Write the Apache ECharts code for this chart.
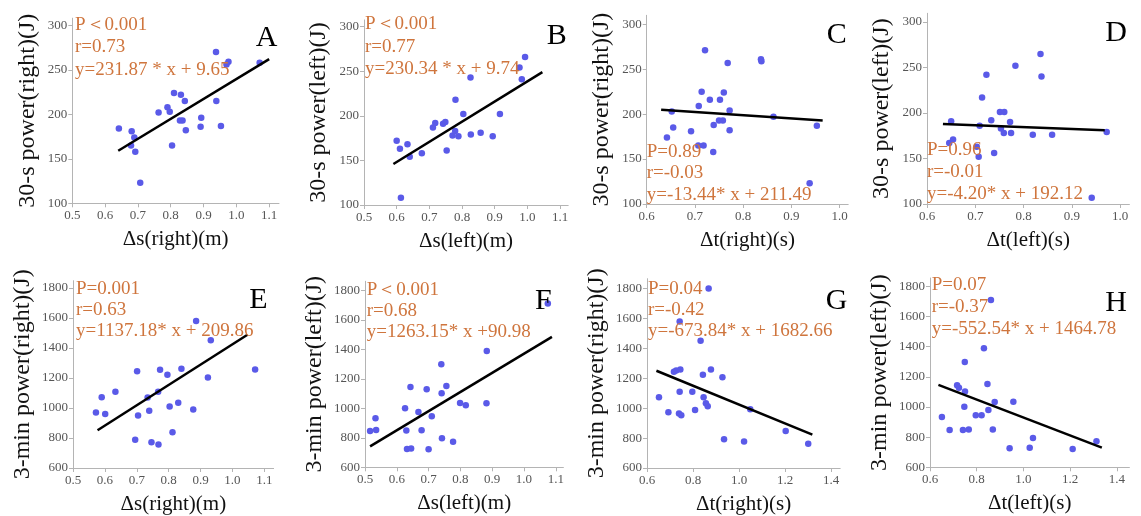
<!DOCTYPE html>
<html><head><meta charset="utf-8">
<script src="https://cdn.jsdelivr.net/npm/echarts@6/dist/echarts.min.js"></script>
<style>html,body{margin:0;padding:0;background:#fff}#c{width:1141px;height:516px}</style>
</head><body><div id="c"></div>
<script>
// ---------- DATA ----------
const panelLetters = ['A','B','C','D','E','F','G','H'];
const xTitles = ['Δs(right)(m)','Δs(left)(m)','Δt(right)(s)','Δt(left)(s)','Δs(right)(m)','Δs(left)(m)','Δt(right)(s)','Δt(left)(s)'];
const yTitles = ['30-s power(right)(J)','30-s power(left)(J)','30-s power(right)(J)','30-s power(left)(J)',
                 '3-min power(right)(J)','3-min power(left)(J)','3-min power(right)(J)','3-min power(left)(J)'];
const statsA = ['P＜0.001','r=0.73','y=231.87 * x + 9.65'];
const statsB = ['P＜0.001','r=0.77','y=230.34 * x + 9.74'];
const statsC = ['P=0.89','r=-0.03','y=-13.44* x + 211.49'];
const statsD = ['P=0.96','r=-0.01','y=-4.20* x + 192.12'];
const statsE = ['P=0.001','r=0.63','y=1137.18* x + 209.86'];
const statsF = ['P＜0.001','r=0.68','y=1263.15* x +90.98'];
const statsG = ['P=0.04','r=-0.42','y=-673.84* x + 1682.66'];
const statsH = ['P=0.07','r=-0.37','y=-552.54* x + 1464.78'];

const pointsA = [[0.642,184],[0.681,181],[0.689,174],[0.679,165],[0.692,158],[0.707,123],[0.763,202],[0.790,208],
  [0.797,203],[0.810,224],[0.831,222],[0.843,215],[0.804,165],[0.828,193],[0.836,193],[0.846,182],[0.893,196],
  [0.891,186],[0.938,270],[0.939,215],[0.953,187],[0.976,259],[0.970,256],[1.071,258]];
const pointsB = [[0.600,172],[0.610,163],[0.633,168],[0.640,154],[0.613,108],[0.677,158],[0.711,187],[0.718,192],
  [0.742,191],[0.749,193],[0.753,161],[0.771,178],[0.779,183],[0.780,218],[0.789,177],[0.804,202],[0.826,243],
  [0.827,179],[0.857,181],[0.894,177],[0.916,202],[0.976,254],[0.983,241],[0.993,266]];
const pointsC = [[0.642,174],[0.652,203],[0.655,185],[0.692,181],[0.707,165],[0.718,165],[0.721,271],[0.708,209],
  [0.714,225],[0.731,216],[0.738,158],[0.739,188],[0.750,193],[0.758,193],[0.752,216],[0.760,224],[0.768,257],
  [0.772,204],[0.772,182],[0.837,261],[0.838,259],[0.863,197],[0.938,123],[0.953,187]];
const pointsD = [[0.646,167],[0.650,191],[0.654,171],[0.703,163],[0.707,152],[0.709,186],[0.714,217],[0.723,242],
  [0.733,192],[0.739,156],[0.751,201],[0.760,201],[0.753,183],[0.759,178],[0.772,190],[0.774,178],[0.783,252],
  [0.819,176],[0.835,265],[0.837,240],[0.859,176],[0.941,107],[0.972,179]];
const pointsE = [[0.572,969],[0.590,1071],[0.601,960],[0.633,1108],[0.695,788],[0.701,1245],[0.704,949],[0.734,1069],
  [0.739,982],[0.746,772],[0.767,1108],[0.768,757],[0.773,1254],[0.796,1221],[0.803,1009],[0.812,839],[0.830,1035],
  [0.840,1261],[0.877,989],[0.886,1579],[0.923,1203],[0.932,1451],[1.071,1256]];
const pointsF = [[0.516,846],[0.533,932],[0.535,853],[0.626,1000],[0.630,849],[0.632,724],[0.645,727],[0.643,1145],
  [0.668,975],[0.678,851],[0.694,1129],[0.700,722],[0.710,946],[0.740,1298],[0.741,1102],[0.742,797],[0.756,1151],
  [0.777,774],[0.799,1036],[0.817,1020],[0.883,1389],[0.882,1034],[1.075,1710]];
const pointsG = [[0.652,1073],[0.693,973],[0.717,1244],[0.727,1253],[0.745,1260],[0.739,964],[0.749,953],[0.742,1111],
  [0.742,1580],[0.797,1111],[0.809,989],[0.833,1451],[0.843,1224],[0.846,1073],[0.856,1033],[0.864,1013],[0.868,1802],
  [0.878,1260],[0.928,1207],[0.935,793],[1.022,778],[1.049,993],[1.203,847],[1.301,762]];
const pointsH = [[0.651,934],[0.684,848],[0.716,1144],[0.724,1128],[0.741,848],[0.747,1002],[0.750,1102],[0.749,1298],
  [0.766,850],[0.796,945],[0.821,945],[0.831,1389],[0.846,1153],[0.850,980],[0.861,1709],[0.869,850],[0.877,1033],
  [0.941,726],[0.957,1035],[1.027,730],[1.041,794],[1.211,722],[1.313,772]];

const fitA = [[0.64,159],[1.10,262]];
const fitB = [[0.59,146],[1.046,249]];
const fitC = [[0.630,205],[0.965,193]];
const fitD = [[0.633,188],[0.968,181]];
const fitE = [[0.577,852],[1.047,1488]];
const fitF = [[0.516,742],[1.088,1484]];
const fitG = [[0.641,1251],[1.319,824]];
const fitH = [[0.636,1146],[1.336,730]];

const xTicksS = [0.5,0.6,0.7,0.8,0.9,1.0,1.1];
const xTicksT30 = [0.6,0.7,0.8,0.9,1.0];
const xTicksT3 = [0.6,0.8,1.0,1.2,1.4];
const yTicks30 = [100,150,200,250,300];
const yTicks3 = [600,800,1000,1200,1400,1600,1800];

// ---------- LAYOUT ----------
const pointsAll = [pointsA,pointsB,pointsC,pointsD,pointsE,pointsF,pointsG,pointsH];
const fitsAll = [fitA,fitB,fitC,fitD,fitE,fitF,fitG,fitH];
const statsAll = [statsA,statsB,statsC,statsD,statsE,statsF,statsG,statsH];
const xTicksAll = [xTicksS,xTicksS,xTicksT30,xTicksT30,xTicksS,xTicksS,xTicksT3,xTicksT3];
const yTicksAll = [yTicks30,yTicks30,yTicks30,yTicks30,yTicks3,yTicks3,yTicks3,yTicks3];
// grid: left, top, width, height ; axis ranges
const grids = [
  [72.3,18.2,206.7,185.1],[364,19.9,204.2,185.1],[646.7,15.3,201.5,188.7],[927,13.3,202.4,190.7],
  [73,280.7,200.6,188.3],[365,281.3,198.4,186],[647,278.7,193.2,190],[930,278,199.4,189.3]];
const xRanges = [[0.5,1.13],[0.5,1.125],[0.6,1.018],[0.6,1.019],[0.5,1.129],[0.5,1.124],[0.6,1.44],[0.6,1.454]];
const yRanges = [[100,308],[100,307.5],[100,310],[100,309.6],[600,1848],[600,1861],[600,1867],[600,1855]];
const statPos = [[75,25,22.5],[365,24.3,22.5],[646.7,151.7,21.7],[927,150,22],[76,288.7,21],[366.7,290.3,21],[648,288.7,21.3],[931.7,285.3,21.7]];
const letterPos = [[266.7,38.3],[556.7,36],[836.7,35],[1116,33.3],[258.3,299.7],[543.3,301.3],[836.7,301.3],[1116,303]];

const SERIF = '"Liberation Serif","Times New Roman",serif';
const ORANGE = '#cf753d';
const BLUE = '#5a5ae8';
const AXIS = '#b4b4b4';

const option = {backgroundColor:'#fff', animation:false, grid:[], xAxis:[], yAxis:[], series:[], graphic:[]};
for (let i=0;i<8;i++){
  const g = grids[i];
  option.grid.push({left:g[0], top:g[1], width:g[2], height:g[3], containLabel:false});
  option.xAxis.push({
    type:'value', gridIndex:i, min:xRanges[i][0], max:xRanges[i][1],
    name:xTitles[i], nameLocation:'middle', nameGap:26,
    nameTextStyle:{fontFamily:SERIF, fontSize:21, color:'#111'},
    axisLine:{show:true, lineStyle:{color:AXIS, width:1}},
    axisTick:{show:true, length:4, lineStyle:{color:AXIS}, customValues:xTicksAll[i]},
    axisLabel:{customValues:xTicksAll[i], formatter:v => Number(v).toFixed(1), margin:6, fontFamily:SERIF, fontSize:13, color:'#555'},
    splitLine:{show:false}
  });
  option.yAxis.push({
    type:'value', gridIndex:i, min:yRanges[i][0], max:yRanges[i][1],
    name:yTitles[i], nameLocation:'middle', nameGap: i<4?33:38,
    nameTextStyle:{fontFamily:SERIF, fontSize:24, color:'#111'},
    axisLine:{show:true, lineStyle:{color:AXIS, width:1}},
    axisTick:{show:true, length:4, lineStyle:{color:AXIS}, customValues:yTicksAll[i]},
    axisLabel:{customValues:yTicksAll[i], formatter:v => String(Math.round(v)), margin:5, fontFamily:SERIF, fontSize:13, color:'#555'},
    splitLine:{show:false}
  });
  option.series.push({
    type:'scatter', xAxisIndex:i, yAxisIndex:i, data:pointsAll[i],
    symbolSize:6.5, itemStyle:{color:BLUE, opacity:1}, z:2
  });
  option.series.push({
    type:'line', xAxisIndex:i, yAxisIndex:i, data:fitsAll[i], symbol:'none',
    lineStyle:{color:'#000', width:2.5}, z:3
  });
  const sp = statPos[i];
  statsAll[i].forEach((t,k)=>{
    option.graphic.push({type:'text', x:sp[0], y:sp[1]+k*sp[2], z:10,
      style:{text:t, fill:ORANGE, font:'19px '+SERIF, textAlign:'left', textVerticalAlign:'middle'}});
  });
  option.graphic.push({type:'text', x:letterPos[i][0], y:letterPos[i][1], z:10,
    style:{text:panelLetters[i], fill:'#000', font:'30px '+SERIF, textAlign:'center', textVerticalAlign:'middle'}});
}
const chart = echarts.init(document.getElementById('c'), null, {renderer:'canvas'});
chart.setOption(option);
</script></body></html>
